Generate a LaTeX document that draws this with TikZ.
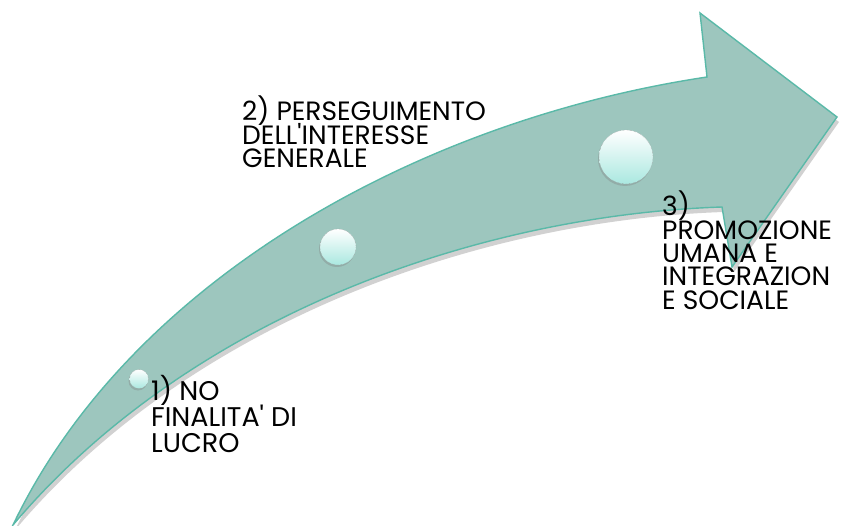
\documentclass[tikz,border=0pt]{standalone}
\usepackage{fontspec}
\setmainfont{Poppins}
\usepackage{tikz}
\usetikzlibrary{shadows}
\definecolor{arrowfill}{RGB}{157,198,190}
\definecolor{arrowline}{RGB}{90,185,168}
\definecolor{bubbleb}{RGB}{170,232,224}
\newcommand{\tightlines}{\lineskiplimit=-30pt\relax}

\begin{document}
\begin{tikzpicture}[x=1pt,y=-1pt,
  bubble/.style={circle, inner sep=0, draw=gray!80, densely dotted,
    top color=white, bottom color=bubbleb, drop shadow={opacity=.35, shadow xshift=-1pt, shadow yshift=-2pt}},
  steptext/.style={anchor=north west, inner sep=0, align=left,
    font=\fontsize{26.5}{23.5}\selectfont\tightlines}]
\useasboundingbox (0,0) rectangle (845,526);
\coordinate (tail) at (13,525);
\coordinate (neckup) at (707,77);
\coordinate (headtop) at (700,13);
\coordinate (tip) at (837,117);
\coordinate (headbot) at (732,267);
\coordinate (necklow) at (722,207);
\fill[black, opacity=.18]
([shift={(2,5)}]tail) .. controls (132,285) and (422,125) .. ([shift={(2,5)}]neckup)
-- ([shift={(2,5)}]headtop) -- ([shift={(2,5)}]tip) -- ([shift={(2,5)}]headbot)
-- ([shift={(2,5)}]necklow) .. controls (482,220) and (192,320) .. cycle;
\draw[fill=arrowfill, draw=arrowline, line width=1.4pt, line join=miter]
(tail) .. controls (130,280) and (420,120) .. (neckup)
-- (headtop) -- (tip) -- (headbot) -- (necklow)
.. controls (480,215) and (190,315) .. cycle;
\node[bubble, minimum size=19pt] (b1) at (139,379) {};
\node[bubble, minimum size=36pt] (b2) at (338,247) {};
\node[bubble, minimum size=54pt] (b3) at (626,157) {};
\node[steptext, font=\fontsize{27}{26}\selectfont\tightlines] (t1) at (151,375) {1) NO\\FINALITA\textquotesingle{} DI\\LUCRO};
\node[steptext] (t2) at (242,96) {2) PERSEGUIMENTO\\DELL\textquotesingle{}INTERESSE\\GENERALE};
\node[steptext, font=\fontsize{26.5}{23.3}\selectfont\tightlines] (t3) at (662,191) {3)\\PROMOZIONE\\UMANA E\\INTEGRAZION\\E SOCIALE};
\end{tikzpicture}
\end{document}
